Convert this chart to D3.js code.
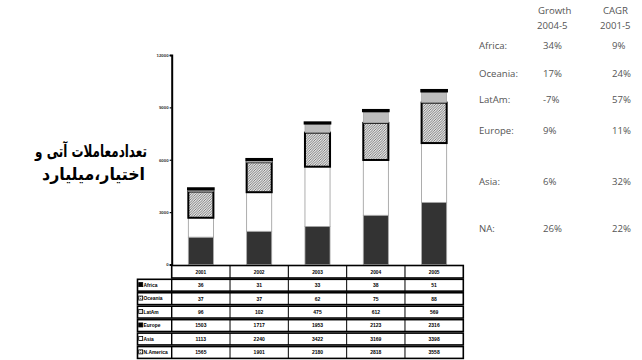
<!DOCTYPE html>
<html>
<head>
<meta charset="utf-8">
<script src="https://cdn.jsdelivr.net/npm/d3@7/dist/d3.min.js"></script>
<style>
  html, body { margin: 0; padding: 0; background: #fff; }
  svg { display: block; }
</style>
</head>
<body>
<script>
// Exchange-traded futures & options volume by region (millions of contracts)
const years = ["2001", "2002", "2003", "2004", "2005"];
const regions = ["N.America", "Asia", "Europe", "LatAm", "Oceania", "Africa"];
const naValues      = [1565, 1901, 2180, 2818, 3558];
const asiaValues    = [1113, 2240, 3422, 3169, 3398];
const europeValues  = [1503, 1717, 1953, 2123, 2316];
const latamValues   = [96, 102, 475, 612, 569];
const oceaniaValues = [37, 37, 62, 75, 88];
const africaValues  = [36, 31, 33, 38, 51];
const yTicks = [0, 3000, 6000, 9000, 12000];

// Side summary table
const summaryRegions = ["Africa:", "Oceania:", "LatAm:", "Europe:", "Asia:", "NA:"];
const growth2004_5 = ["34%", "17%", "-7%", "9%", "6%", "26%"];
const cagr2001_5 = ["9%", "24%", "57%", "11%", "32%", "22%"];

const seriesByRegion = {
  "N.America": naValues,
  "Asia": asiaValues,
  "Europe": europeValues,
  "LatAm": latamValues,
  "Oceania": oceaniaValues,
  "Africa": africaValues
};

const W = 642, H = 360;
const svg = d3.select("body").append("svg").attr("width", W).attr("height", H);

// Fine hatched fill used for Europe
const defs = svg.append("defs");
const pat = defs.append("pattern").attr("id", "hatch")
  .attr("patternUnits", "userSpaceOnUse").attr("width", 2.5).attr("height", 2.5);
pat.append("rect").attr("width", 2.5).attr("height", 2.5).attr("fill", "#e4e4e4");
pat.append("path").attr("d", "M-1,1 l2,-2 M0,2.5 l2.5,-2.5 M1.5,3.5 l2,-2")
  .attr("stroke", "#555").attr("stroke-width", 0.7);
const pat2 = defs.append("pattern").attr("id", "hatchLight")
  .attr("patternUnits", "userSpaceOnUse").attr("width", 2).attr("height", 2);
pat2.append("rect").attr("width", 2).attr("height", 2).attr("fill", "#eee");
pat2.append("rect").attr("width", 1).attr("height", 1).attr("fill", "#777");

const style = {
  "N.America": { fill: "#333", stroke: "#aaa", sw: 0.8 },
  "Asia":      { fill: "#fff", stroke: "#999", sw: 0.8 },
  "Europe":    { fill: "url(#hatch)", stroke: "#000", sw: 2 },
  "LatAm":     { fill: "#bdbdbd", stroke: "#999", sw: 0.6 },
  "Oceania":   { fill: "#bdbdbd", stroke: "#999", sw: 0.6 },
  "Africa":    { fill: "#000", stroke: "#000", sw: 2.6 }
};

// Scales
const tableLeft = 171.7, tableRight = 463.3;
const x = d3.scaleBand().domain(years).range([tableLeft, tableRight])
  .paddingInner(0.57).paddingOuter(0.285);
const y = d3.scaleLinear().domain([0, 12000]).range([264.5, 55]);

// Stack data
const rows = years.map((yr, i) => {
  const o = { year: yr };
  regions.forEach(r => o[r] = seriesByRegion[r][i]);
  return o;
});
const stacked = d3.stack().keys(regions)(rows);

const barG = svg.append("g");
stacked.forEach(layer => {
  const s = style[layer.key];
  barG.append("g").selectAll("rect").data(layer).join("rect")
    .attr("x", d => x(d.data.year))
    .attr("width", x.bandwidth())
    .attr("y", d => y(d[1]))
    .attr("height", d => Math.max(0.5, y(d[0]) - y(d[1])))
    .attr("fill", s.fill)
    .attr("stroke", s.stroke)
    .attr("stroke-width", s.sw);
});

// Y axis
const yAxis = d3.axisLeft(y).tickValues(yTicks).tickSize(2).tickFormat(d3.format("d"));
const yg = svg.append("g").attr("transform", `translate(${tableLeft},0)`).call(yAxis);
yg.select(".domain").attr("stroke", "#000").attr("stroke-width", 2);
yg.selectAll(".tick line").attr("stroke", "#000").attr("stroke-width", 1.2);
yg.selectAll(".tick text").attr("font-family", "Liberation Sans, Arial, sans-serif")
  .attr("font-size", 4.4).attr("font-weight", "bold").attr("fill", "#333").attr("x", -3);

// Data table under the plot
const table = svg.append("g").attr("font-family", "Liberation Sans, Arial, sans-serif");
const headTop = 265.5, headBottom = 278;
table.append("rect").attr("x", tableLeft).attr("y", headTop)
  .attr("width", tableRight - tableLeft).attr("height", headBottom - headTop)
  .attr("fill", "#fff").attr("stroke", "#000").attr("stroke-width", 1.6);
years.forEach((yr, i) => {
  const cx = x(yr) + x.bandwidth() / 2;
  if (i > 0) {
    table.append("line").attr("x1", x.step() * i + tableLeft).attr("x2", x.step() * i + tableLeft)
      .attr("y1", headTop).attr("y2", headBottom).attr("stroke", "#000").attr("stroke-width", 1.1);
  }
  table.append("text").attr("x", cx).attr("y", headTop + 8.3)
    .attr("text-anchor", "middle").attr("font-size", 4.8).attr("font-weight", "bold").text(yr);
});

const tableRegions = ["Africa", "Oceania", "LatAm", "Europe", "Asia", "N.America"];
const swatch = {
  "Africa": "#000", "Oceania": "url(#hatchLight)", "LatAm": "#ddd",
  "Europe": "#000", "Asia": "#fff", "N.America": "url(#hatchLight)"
};
const rowTop = 279.3, rowH = 13.45, labelLeft = 137.5;
tableRegions.forEach((r, j) => {
  const ry = rowTop + j * rowH;
  table.append("rect").attr("x", labelLeft).attr("y", ry)
    .attr("width", tableRight - labelLeft).attr("height", rowH - 1.6)
    .attr("fill", "#fff").attr("stroke", "#000").attr("stroke-width", 1.6);
  table.append("line").attr("x1", tableLeft).attr("x2", tableLeft)
    .attr("y1", ry).attr("y2", ry + rowH - 1.6).attr("stroke", "#000").attr("stroke-width", 1.4);
  years.forEach((yr, i) => {
    if (i > 0) {
      table.append("line").attr("x1", x.step() * i + tableLeft).attr("x2", x.step() * i + tableLeft)
        .attr("y1", ry).attr("y2", ry + rowH - 1.6).attr("stroke", "#000").attr("stroke-width", 1);
    }
    table.append("text").attr("x", x(yr) + x.bandwidth() / 2).attr("y", ry + 7.8)
      .attr("text-anchor", "middle").attr("font-size", 5).attr("font-weight", "bold")
      .text(seriesByRegion[r][i]);
  });
  table.append("rect").attr("x", labelLeft + 1.2).attr("y", ry + 3.3).attr("width", 4).attr("height", 4)
    .attr("fill", swatch[r]).attr("stroke", "#000").attr("stroke-width", 0.8);
  table.append("text").attr("x", labelLeft + 6).attr("y", ry + 7.6)
    .attr("font-size", 4.9).attr("font-weight", "bold").text(r);
});

// Persian axis title (number of futures & options contracts, billions),
// squeezed horizontally to fit the space left of the axis
const titleLines = [
  { text: "تعدادمعاملات آتی و", right: 147, base: 157, width: 112 },
  { text: "اختیار،میلیارد", right: 145, base: 180, width: 103 }
];
titleLines.forEach(l => {
  const t = svg.append("text")
    .attr("font-family", "DejaVu Sans, sans-serif")
    .attr("font-weight", "bold").attr("font-size", 17).attr("fill", "#000")
    .attr("text-anchor", "end")
    .text(l.text);
  const natural = t.node().getComputedTextLength();
  t.attr("transform", `translate(${l.right},${l.base}) scale(${l.width / natural},1)`);
});

// Summary of growth rates on the right
const side = svg.append("g").attr("font-family", "Open Sans, sans-serif")
  .attr("font-size", 9.6).attr("fill", "#555");
side.append("text").attr("x", 538).attr("y", 14).text("Growth");
side.append("text").attr("x", 537).attr("y", 29).text("2004-5");
side.append("text").attr("x", 603).attr("y", 14).text("CAGR");
side.append("text").attr("x", 600).attr("y", 29).text("2001-5");
const sideY = [49, 77, 103, 134, 185, 232];
summaryRegions.forEach((r, i) => {
  side.append("text").attr("x", 479).attr("y", sideY[i]).text(r);
  side.append("text").attr("x", 543).attr("y", sideY[i]).text(growth2004_5[i]);
  side.append("text").attr("x", 612).attr("y", sideY[i]).text(cagr2001_5[i]);
});
</script>
</body>
</html>
